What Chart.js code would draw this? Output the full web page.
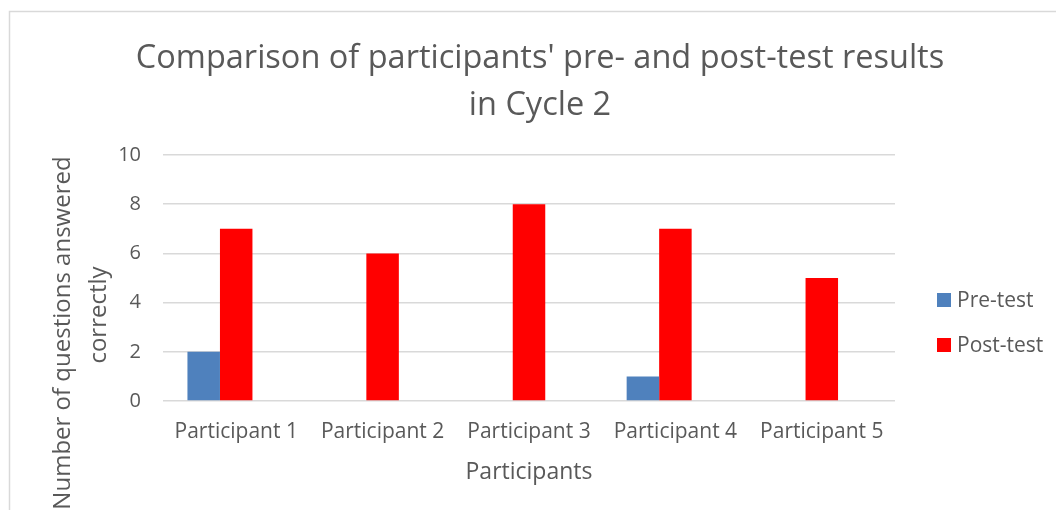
<!DOCTYPE html>
<html>
<head>
<meta charset="utf-8">
<script src="https://cdn.jsdelivr.net/npm/chart.js@4.4.1/dist/chart.umd.min.js"></script>
<style>
  html, body { margin: 0; padding: 0; background: #fff; overflow: hidden; }
  .wrap { position: relative; width: 1080px; height: 510px; }
</style>
</head>
<body>
<div class="wrap">
  <canvas id="cycle2"></canvas>
</div>

<script>
  var participants = ['Participant 1', 'Participant 2', 'Participant 3', 'Participant 4', 'Participant 5'];
  var preTest = [2, 0, 0, 1, 0];
  var postTest = [7, 6, 8, 7, 5];
  // third column of the sheet is empty, it still takes its slot in each group
  var emptyCol = [null, null, null, null, null];
  var yTicks = [0, 2, 4, 6, 8, 10];

  var chartTitle = ["Comparison of participants' pre- and post-test results", 'in Cycle 2'];
  var yTitle = ['Number of questions answered', 'correctly'];

  var textGrey = '#595959';
  var lineGrey = '#d9d9d9';
  var fontFamily = 'Open Sans';

  Chart.defaults.font.family = fontFamily;
  Chart.defaults.color = textGrey;

  // frame, title, legend and the wrapped y axis title
  var extras = {
    id: 'extras',
    afterDraw: (chart) => {
      var ctx = chart.ctx;
      ctx.save();

      ctx.strokeStyle = lineGrey;
      ctx.lineWidth = 1.5;
      ctx.beginPath();
      ctx.moveTo(9.5, chart.height);
      ctx.lineTo(9.5, 11.5);
      ctx.lineTo(chart.width, 11.5);
      ctx.stroke();

      ctx.fillStyle = textGrey;
      ctx.textBaseline = 'alphabetic';
      ctx.textAlign = 'center';
      ctx.font = '32.5px ' + fontFamily;
      ctx.fillText(chartTitle[0], 540, 68);
      ctx.fillText(chartTitle[1], 540, 115);

      ctx.font = '21px ' + fontFamily;
      ctx.textAlign = 'left';
      var rows = [307, 352];
      for (var i = 0; i < 2; i++) {
        var ds = chart.data.datasets[i];
        ctx.fillStyle = ds.backgroundColor;
        ctx.fillRect(937, rows[i] - 14, 14, 14);
        ctx.fillStyle = textGrey;
        ctx.fillText(ds.label, 957, rows[i]);
      }

      ctx.font = '24px ' + fontFamily;
      ctx.textAlign = 'center';
      var lines = [[70, 333], [106, 315]];
      for (var j = 0; j < yTitle.length; j++) {
        ctx.save();
        ctx.translate(lines[j][0], lines[j][1]);
        ctx.rotate(-Math.PI / 2);
        ctx.fillText(yTitle[j], 0, 0);
        ctx.restore();
      }
      ctx.restore();
    }
  };

  new Chart(document.getElementById('cycle2'), {
    type: 'bar',
    data: {
      labels: participants,
      datasets: [{
        label: 'Pre-test',
        data: preTest,
        backgroundColor: '#4f81bd'
      }, {
        label: 'Post-test',
        data: postTest,
        backgroundColor: '#ff0000'
      }, {
        label: '',
        data: emptyCol,
        backgroundColor: 'rgba(0,0,0,0)'
      }]
    },
    options: {
      responsive: true,
      maintainAspectRatio: false,
      animation: false,
      events: [],
      layout: {
        padding: { top: 155, left: 0, right: 185, bottom: 0 }
      },
      datasets: {
        bar: {
          categoryPercentage: 0.666,
          barPercentage: 1,
          borderWidth: 0
        }
      },
      plugins: {
        legend: { display: false },
        tooltip: { enabled: false },
        title: { display: false }
      },
      scales: {
        x: {
          grid: { display: false, drawTicks: false },
          border: { display: false },
          ticks: { font: { size: 21 }, padding: 18, maxRotation: 0 },
          title: {
            display: true,
            text: 'Participants',
            font: { size: 23 },
            padding: { top: 0, bottom: 24 }
          },
          afterFit: (scale) => { scale.height = 109; }
        },
        y: {
          min: 0,
          max: 10,
          afterBuildTicks: (scale) => {
            scale.ticks = yTicks.map((v) => ({ value: v }));
          },
          grid: { color: lineGrey, lineWidth: 1.5, drawTicks: false },
          border: { display: false },
          ticks: { font: { size: 20 }, padding: 22 },
          afterFit: (scale) => { scale.width = 163; }
        }
      }
    },
    plugins: [extras]
  });
</script>
</body>
</html>
